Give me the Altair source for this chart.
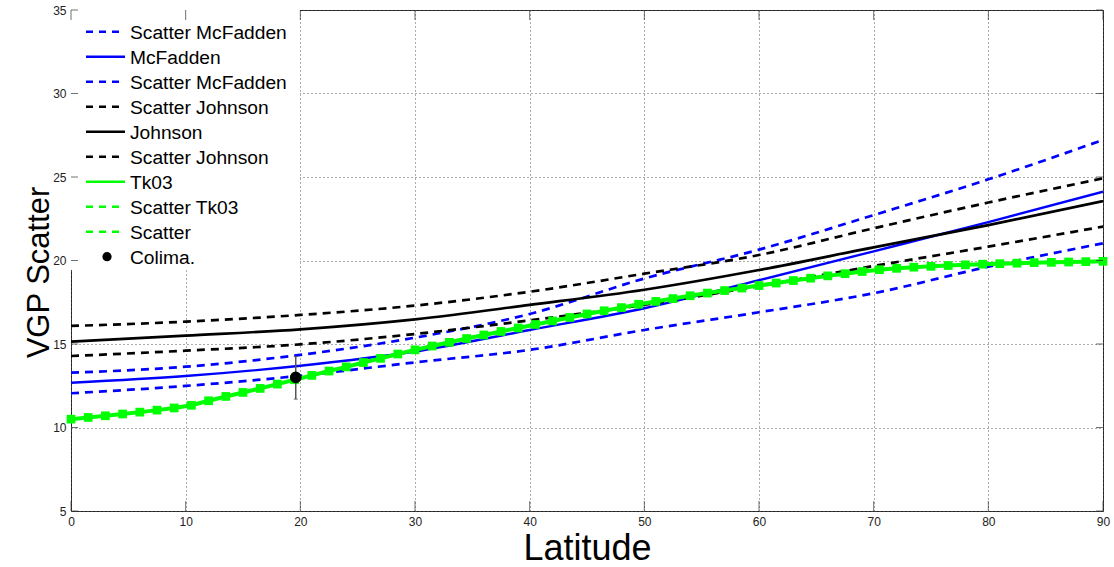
import altair as alt
import pandas as pd

# ---------------- data ----------------
lat = [0, 10, 20, 30, 40, 50, 60, 70, 80, 90]
mcfadden_upper = [13.28, 13.64, 14.35, 15.38, 16.80, 18.92, 20.65, 22.72, 24.86, 27.22]
mcfadden = [12.68, 13.08, 13.70, 14.55, 15.84, 17.14, 18.82, 20.55, 22.30, 24.12]
mcfadden_lower = [12.05, 12.49, 13.10, 13.90, 14.65, 15.84, 16.90, 18.04, 19.63, 21.03]
johnson_upper = [16.08, 16.34, 16.74, 17.30, 18.13, 19.21, 20.33, 21.93, 23.47, 24.92]
johnson = [15.14, 15.50, 15.88, 16.48, 17.34, 18.25, 19.43, 20.79, 22.12, 23.56]
johnson_lower = [14.28, 14.60, 14.98, 15.60, 16.42, 17.35, 18.47, 19.67, 20.83, 22.03]

tk03_lat = [0, 1.5, 3, 4.5, 6, 7.5, 9, 10.5, 12, 13.5, 15, 16.5, 18, 19.5, 21, 22.5,
            24, 25.5, 27, 28.5, 30, 31.5, 33, 34.5, 36, 37.5, 39, 40.5, 42, 43.5, 45,
            46.5, 48, 49.5, 51, 52.5, 54, 55.5, 57, 58.5, 60, 61.5, 63, 64.5, 66, 67.5,
            69, 70.5, 72, 73.5, 75, 76.5, 78, 79.5, 81, 82.5, 84, 85.5, 87, 88.5, 90]
tk03_val = [10.50, 10.60, 10.70, 10.81, 10.92, 11.04, 11.17, 11.33, 11.60, 11.86, 12.10,
            12.34, 12.60, 12.86, 13.12, 13.38, 13.63, 13.89, 14.14, 14.40, 14.65, 14.88,
            15.10, 15.33, 15.54, 15.75, 15.96, 16.17, 16.38, 16.59, 16.80, 16.99, 17.18,
            17.38, 17.55, 17.72, 17.89, 18.05, 18.20, 18.35, 18.50, 18.65, 18.80, 18.94,
            19.08, 19.21, 19.34, 19.45, 19.53, 19.60, 19.65, 19.70, 19.74, 19.78, 19.81,
            19.84, 19.87, 19.89, 19.91, 19.93, 19.95]

colima_lat = [19.6]
colima_val = [13.0]
colima_lo = [11.7]
colima_hi = [14.25]

x_ticks = [0, 10, 20, 30, 40, 50, 60, 70, 80, 90]
y_ticks = [5, 10, 15, 20, 25, 30, 35]

legend_labels = ["Scatter McFadden", "McFadden", "Scatter McFadden", "Scatter Johnson",
                 "Johnson", "Scatter Johnson", "Tk03", "Scatter Tk03", "Scatter", "Colima."]
legend_colors = ["#0000FF", "#0000FF", "#0000FF", "#000000", "#000000", "#000000",
                 "#00FF00", "#00FF00", "#00FF00", "#000000"]
legend_styles = ["dash", "solid", "dash", "dash", "solid", "dash", "solid", "dash", "dash", "dot"]

# ---------------- layout / style ----------------
W, H = 1032, 501
FONT = "Liberation Sans"
DASH = [8, 6]

xscale = alt.Scale(domain=[0, 90], nice=False, zero=False)
yscale = alt.Scale(domain=[5, 35], nice=False, zero=False)

xaxis = alt.Axis(values=x_ticks, grid=True, gridDash=[1, 3], gridColor="#555", gridWidth=1,
                 domain=False, ticks=False, labelFont=FONT, labelFontSize=12,
                 labelColor="#222", labelPadding=5, labelFlush=False, labelOverlap=False,
                 format="d", titleFont=FONT, titleFontSize=36, titleFontWeight="normal",
                 titleColor="#000", titleBaseline="alphabetic", titleY=48)
yaxis = alt.Axis(values=y_ticks, grid=True, gridDash=[1, 3], gridColor="#555", gridWidth=1,
                 domain=False, ticks=False, labelFont=FONT, labelFontSize=12,
                 labelColor="#222", labelPadding=5, labelFlush=False, labelOverlap=False,
                 format="d", titleFont=FONT, titleFontSize=31, titleFontWeight="normal",
                 titleColor="#000", titleBaseline="alphabetic", titleAngle=270,
                 titleX=-23, titleY=262)


def X(field="lat"):
    return alt.X(f"{field}:Q", scale=xscale, axis=xaxis, title="Latitude")


def Y(field="val"):
    return alt.Y(f"{field}:Q", scale=yscale, axis=yaxis, title="VGP Scatter")


def curve(vals, color, dashed, width):
    df = pd.DataFrame({"lat": lat, "val": vals})
    kw = dict(color=color, strokeWidth=width, interpolate="monotone", clip=True)
    if dashed:
        kw["strokeDash"] = DASH
    return alt.Chart(df).mark_line(**kw).encode(x=X(), y=Y())


layers = [
    curve(mcfadden_upper, "#0000FF", True, 2.7),
    curve(mcfadden, "#0000FF", False, 2.4),
    curve(mcfadden_lower, "#0000FF", True, 2.7),
    curve(johnson_upper, "#000000", True, 2.7),
    curve(johnson, "#000000", False, 2.7),
    curve(johnson_lower, "#000000", True, 2.7),
]

tk = pd.DataFrame({"lat": tk03_lat, "val": tk03_val})
layers.append(alt.Chart(tk).mark_line(color="#00FF00", strokeWidth=4).encode(x=X(), y=Y()))
layers.append(alt.Chart(tk).mark_point(shape="square", filled=True, size=76, color="#00FF00",
                                       opacity=1).encode(x=X(), y=Y()))

col = pd.DataFrame({"lat": colima_lat, "val": colima_val, "lo": colima_lo, "hi": colima_hi})
layers.append(alt.Chart(col).mark_rule(color="#555", strokeWidth=1.5).encode(
    x=X(), y=Y("lo"), y2="hi:Q"))
layers.append(alt.Chart(col).mark_tick(orient="horizontal", size=4, thickness=1.2,
                                       color="#555").encode(x=X(), y=Y("lo")))
layers.append(alt.Chart(col).mark_tick(orient="horizontal", size=4, thickness=1.2,
                                       color="#555").encode(x=X(), y=Y("hi")))
layers.append(alt.Chart(col).mark_point(shape="circle", filled=True, size=135, color="#000",
                                        opacity=1).encode(x=X(), y=Y()))

# ---------------- legend (manual, inside the plot) ----------------
one = pd.DataFrame({"a": [0]})
layers.append(alt.Chart(one).mark_rect(color="white").encode(
    x=alt.value(0), x2=alt.value(229), y=alt.value(0), y2=alt.value(260)))
for i, (lab, c, st) in enumerate(zip(legend_labels, legend_colors, legend_styles)):
    yc = 21.7 + 25 * i
    if st == "dot":
        layers.append(alt.Chart(one).mark_point(shape="circle", filled=True, size=85,
                                                color=c, opacity=1).encode(
            x=alt.value(36), y=alt.value(yc)))
    else:
        kw = dict(color=c, strokeWidth=2.6)
        if st == "dash":
            kw["strokeDash"] = [7, 6]
        layers.append(alt.Chart(one).mark_rule(**kw).encode(
            x=alt.value(15), x2=alt.value(54), y=alt.value(yc)))
    layers.append(alt.Chart(one).mark_text(align="left", baseline="alphabetic", font=FONT,
                                           fontSize=19.2, color="#000").encode(
        x=alt.value(59), y=alt.value(yc + 6.9), text=alt.value(lab)))

# ---------------- inward tick marks on all four sides ----------------
xt = pd.DataFrame({"lat": x_ticks})
yt = pd.DataFrame({"val": y_ticks})
layers.append(alt.Chart(xt).mark_tick(orient="vertical", size=10, thickness=1, color="#333")
              .encode(x=X(), y=alt.value(H - 5)))
layers.append(alt.Chart(xt).mark_tick(orient="vertical", size=10, thickness=1, color="#333")
              .encode(x=X(), y=alt.value(5)))
layers.append(alt.Chart(yt).mark_tick(orient="horizontal", size=7, thickness=1, color="#333")
              .encode(y=Y(), x=alt.value(3.5)))
layers.append(alt.Chart(yt).mark_tick(orient="horizontal", size=7, thickness=1, color="#333")
              .encode(y=Y(), x=alt.value(W - 3.5)))

chart = alt.layer(*layers).properties(
    width=W, height=H,
    autosize=alt.AutoSizeParams(type="none"),
    padding={"left": 71, "top": 10, "right": 11, "bottom": 56},
    background="white",
).configure_view(stroke="#222", strokeWidth=1)

chart.save("out.html", embed_options={"renderer": "svg", "actions": False})
